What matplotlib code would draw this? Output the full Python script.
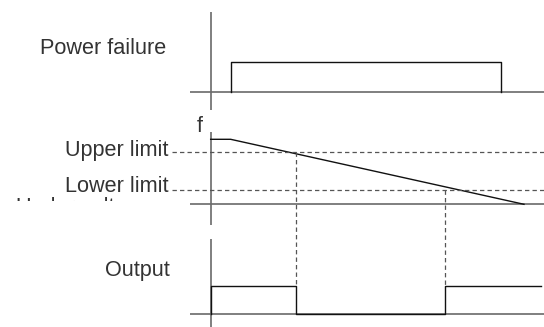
import matplotlib
matplotlib.use('Agg')
import matplotlib.pyplot as plt
from matplotlib.transforms import Bbox, TransformedBbox

# --- timing data (time axis 0..100, levels normalised) ---
power_edges = [6, 87]              # power lost / power restored
f_time = [0, 6, 94]
f_level = [1.0, 1.0, 0.0]          # frequency ramps down after power failure
upper_limit = 0.81
lower_limit = 0.22
out_time = [0, 0, 25.6, 70.3, 99]  # output edges
out_level = [0, 1, 0, 1, 1]
label_power = 'Power failure'
label_upper = 'Upper limit'
label_lower = 'Lower limit'
label_out = 'Output'
label_f = 'f'

# lane layout: (baseline y, height of level 1.0) in pixel units
LANE_POWER = (91.6, 29.8)
LANE_FREQ = (204.3, 65.0)
LANE_OUT = (314.0, 28.5)


def lane_y(lane, vals):
    base, h = lane
    return [base - v * h for v in vals]


fig = plt.figure(figsize=(5.44, 3.27), dpi=100)
ax = fig.add_axes([0, 0, 1, 1])
ax.set_xlim(-63.2, 100)
ax.set_ylim(327, 0)
ax.axis('off')

axis_kw = dict(color='#6a6a6a', lw=1.2, solid_capstyle='butt')
sig_kw = dict(color='#111111', lw=1.0)
dash_kw = dict(color='#555555', lw=0.9, linestyle=(0, (3.5, 2.5)))
txt_kw = dict(fontsize=15.6, color='#333333', family='Liberation Sans')

# axes of the three lanes
for lane, (y0, y1) in [(LANE_POWER, (12, 110)), (LANE_FREQ, (131.5, 225)),
                       (LANE_OUT, (239, 327))]:
    ax.plot([0, 0], [y0, y1], **axis_kw)
    ax.plot([-6.2, 100], [lane[0], lane[0]], **axis_kw)

# power failure pulse
a, b = power_edges
ax.plot([a, a, b, b], lane_y(LANE_POWER, [0, 1, 1, 0]), **sig_kw)

# frequency ramp and limits
ax.plot(f_time, lane_y(LANE_FREQ, f_level), **sig_kw)
for lvl in (upper_limit, lower_limit):
    y = lane_y(LANE_FREQ, [lvl])[0]
    ax.plot([-11.7, 100], [y, y], **dash_kw)

# output signal
ax.plot(out_time, lane_y(LANE_OUT, out_level), drawstyle='steps-post', **sig_kw)

# dashed drop lines from the limit crossings to the output edges
y_top = lane_y(LANE_OUT, [1])[0]
ax.plot([out_time[2]] * 2, [lane_y(LANE_FREQ, [upper_limit])[0], y_top], **dash_kw)
ax.plot([out_time[3]] * 2, [lane_y(LANE_FREQ, [lower_limit])[0], y_top], **dash_kw)

# labels
ax.text(-13.2, 54, label_power, ha='right', va='baseline', **txt_kw)
ax.text(-3.2, 131.5, label_f, ha='center', va='baseline', **txt_kw)
ax.text(-12.7, 156, label_upper, ha='right', va='baseline', **txt_kw)
ax.text(-12.7, 191.5, label_lower, ha='right', va='baseline', **txt_kw)
ax.text(-12.2, 276, label_out, ha='right', va='baseline', **txt_kw)

# label cut off by the panel edge: only the tops of its letters show
hidden = ax.text(-58.5, 196.6, 'Under voltage', ha='left', va='top', **txt_kw)
hidden.set_clip_box(TransformedBbox(Bbox.from_extents(-70, 196.6, 0, 200.6), ax.transData))
hidden.set_clip_on(True)

plt.savefig('out.png', dpi=100)
plt.close()
